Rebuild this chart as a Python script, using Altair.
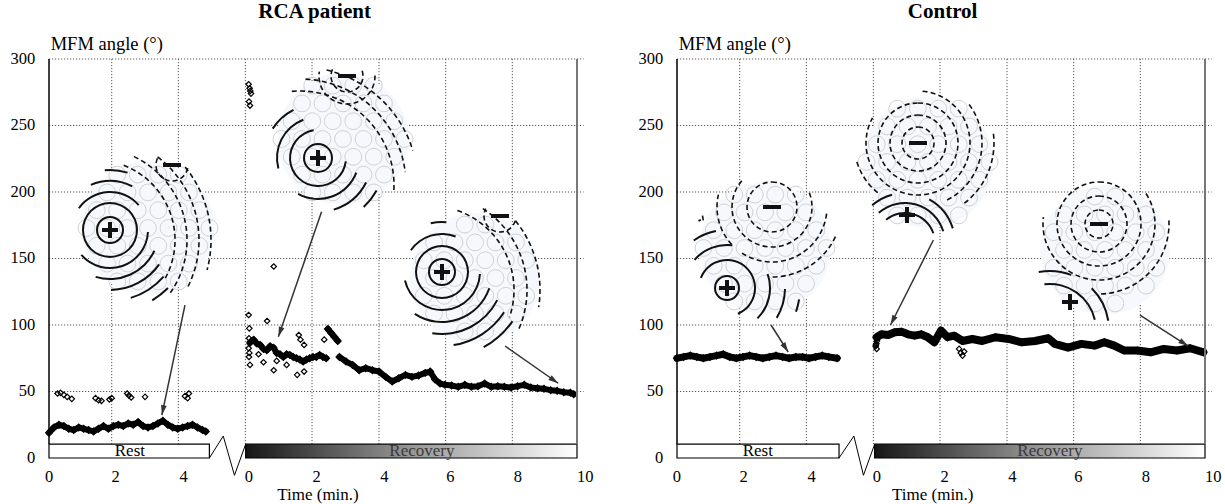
import math
import altair as alt
import pandas as pd

# ---------------- canvas / scale set-up ----------------
W, H = 1225, 504
X0, X1 = -1.485, 35.636      # horizontal domain (panel units, 1 unit = 1 min)
Y0, Y1 = -34.59, 344.36      # vertical domain (degrees)
PXU = W / (X1 - X0)
PXY = H / (Y1 - Y0)


def dat(x, y):
    """pixel position inside the view -> data units (used only for the inset drawings)"""
    return X0 + x / PXU, Y1 - y / PXY


R_OFF = 19.03     # start of the "Control" panel
REC0 = 6.0        # where recovery time 0 sits inside a panel
BAR_TOP = 10.4
FONT = "Liberation Serif"

# ---------------- data ----------------
# RCA patient, rest (main band)
rca_rest_t = [0.0, 0.15, 0.3, 0.45, 0.6, 0.75, 0.9, 1.05, 1.2, 1.35, 1.5, 1.65, 1.8, 1.95, 2.1,
              2.25, 2.4, 2.55, 2.7, 2.85, 3.0, 3.15, 3.3, 3.45, 3.6, 3.75, 3.9, 4.05, 4.2, 4.35,
              4.5, 4.65, 4.75]
rca_rest_v = [19, 23, 25, 24, 22, 21, 23, 22, 21, 20, 22, 24, 22, 24, 25, 24, 26, 25, 27, 24,
              23, 24, 26, 28, 25, 23, 22, 23, 24, 25, 23, 21, 20]
# RCA patient, rest (outliers)
rca_rest_out_t = [0.26, 0.35, 0.45, 0.55, 0.69, 1.41, 1.5, 1.59, 1.83, 1.9, 2.37, 2.42, 2.49,
                  2.91, 4.12, 4.2, 4.24]
rca_rest_out_v = [48.5, 49, 47.5, 46, 44.5, 45, 43.5, 43, 44, 45, 48.5, 47, 45.5, 46, 46.5, 45, 48.5]

# RCA patient, recovery (three pieces of the main band)
rca_rec1_t = [0.1, 0.2, 0.3, 0.4, 0.5, 0.6, 0.7, 0.8, 0.9, 1.0, 1.1, 1.2, 1.3, 1.4, 1.5, 1.6,
              1.7, 1.8, 1.9, 2.0, 2.1, 2.2, 2.3, 2.4]
rca_rec1_v = [87, 89, 86, 85, 82, 81, 84, 83, 79, 78, 76, 78, 77.5, 76, 75, 74, 72.5, 74, 75,
              76, 76, 77.5, 76, 75]
rca_rec2_t = [2.45, 2.55, 2.65, 2.75]
rca_rec2_v = [97, 94, 91, 88]
rca_rec3_t = [2.8, 3.0, 3.2, 3.4, 3.6, 3.8, 4.0, 4.2, 4.4, 4.6, 4.8, 5.0, 5.2, 5.4, 5.55, 5.7,
              5.85, 6.0, 6.2, 6.4, 6.6, 6.8, 7.0, 7.2, 7.4, 7.6, 7.8, 8.0, 8.2, 8.4, 8.6, 8.8,
              9.0, 9.2, 9.4, 9.6, 9.8, 9.9]
rca_rec3_v = [76, 72.5, 70, 66, 67.5, 66, 65, 61, 57.5, 60, 62.5, 61, 62, 64, 65, 59, 56, 55,
              54.5, 53.5, 55, 53.5, 54, 56, 53.5, 54, 53.5, 53, 54, 55, 53, 52.5, 52, 51, 50.5,
              49.5, 49, 48]
# RCA patient, recovery (outliers)
rca_rec_out_t = [0.05, 0.07, 0.06, 0.08, 0.05, 0.07, 0.06, 0.09, 0.61, 0.81, 0.81, 1.52, 1.57,
                 1.62, 1.73, 1.73, 2.34, 0.35, 0.5, 1.2, 0.9, 0.05, 0.08, 0.1, 0.12, 0.06, 0.09]
rca_rec_out_v = [107.5, 97.5, 90, 86, 82.5, 79, 76, 70, 103, 144, 66, 62.5, 92.5, 89, 85, 65,
                 89, 78, 72, 70, 73, 281, 278, 276, 274, 268, 265]

# Control, rest
ctl_rest_t = [0.0, 0.2, 0.4, 0.6, 0.8, 1.0, 1.2, 1.4, 1.6, 1.8, 2.0, 2.2, 2.4, 2.6, 2.8, 3.0,
              3.2, 3.4, 3.6, 3.8, 4.0, 4.2, 4.4, 4.6, 4.85]
ctl_rest_v = [75, 76, 77, 76, 75, 76, 77, 78, 76, 75, 76, 77, 76, 75, 76, 77, 76, 75, 76, 76,
              75, 76, 77, 76, 75]
# Control, recovery
ctl_rec_t = [0.05, 0.2, 0.4, 0.6, 0.8, 1.0, 1.2, 1.4, 1.6, 1.8, 2.0, 2.2, 2.4, 2.65, 2.95,
             3.25, 3.65, 4.05, 4.45, 4.85, 5.25, 5.45, 5.85, 6.25, 6.65, 6.95, 7.25, 7.55,
             7.95, 8.35, 8.75, 9.15, 9.55, 9.95]
ctl_rec_v = [90.8, 93, 92.5, 94.5, 95, 93, 92, 93, 90.8, 87, 95.8, 90.8, 92, 88, 89.5, 88,
             90.8, 89.5, 87, 88, 90, 85.8, 83, 85.8, 84.5, 87, 84.5, 80.8, 80.8, 79.5, 82,
             80.8, 82.5, 79.5]
ctl_rec_out_t = [0.02, 0.04, 0.06, 0.03, 0.05, 2.55, 2.6, 2.65, 2.7]
ctl_rec_out_v = [84, 86, 88, 85, 82, 82, 79, 77, 80]

# axis text
y_ticks = [0, 50, 100, 150, 200, 250, 300]
x_tick_pos = [0, 2.02, 4.08, 6.06, 8.11, 10.16, 12.16, 14.21, 16.25]
x_tick_txt = ["0", "2", "4", "0", "2", "4", "6", "8", "10"]
grid_x = [1.9, 3.92, 5.95, 7.97, 10.0, 12.02, 14.04]
panel_titles = ["RCA patient", "Control"]
panel_offsets = [0.0, R_OFF]

# arrows (data units): from inset to trace
arrow_u1 = [4.12, 8.26, 13.82, 21.88, 26.80, 33.06]
arrow_v1 = [115.0, 185.2, 84.2, 100.0, 163.9, 107.5]
arrow_u2 = [3.42, 6.95, 15.43, 22.40, 25.50, 34.52]
arrow_v2 = [32.3, 91.2, 56.2, 79.7, 100.0, 84.2]

# magnetic field map insets (pixel geometry of the small pictures)
# plus/minus: sign positions; pc/pr: solid contour family; mfam: dashed contour families
insets = [
    dict(disc=(148, 228), R=75, plus=(110, 230), minus=(172, 165), zl=((127, 172), (172, 300)),
         pc=(110, 230), pr=[13, 27, 38, 49, 60, 71, 82],
         mfam=[((95, 240), [80, 92, 104, 116]), ((172, 165), [16])]),
    dict(disc=(343, 139), R=74, plus=(318, 158), minus=(347, 76), zl=((283, 100), (385, 200)),
         pc=(318, 158), pr=[14, 28, 41, 54, 67, 80, 93],
         mfam=[((300, 185), [94, 106, 118]), ((347, 76), [16, 28])]),
    dict(disc=(475, 278), R=73, plus=(442, 272), minus=(500, 216), zl=((440, 212), (510, 320)),
         pc=(442, 272), pr=[13, 26, 38, 50, 62, 74, 86],
         mfam=[((430, 290), [84, 97, 110]), ((500, 216), [16])]),
    dict(disc=(765, 248), R=74, plus=(727, 288), minus=(772, 207), zl=((700, 218), (807, 307)),
         pc=(727, 288), pr=[12, 28, 43, 58, 73],
         mfam=[((772, 207), [25, 40, 55, 70])]),
    dict(disc=(928, 162), R=74, plus=(907, 215), minus=(918, 143), zl=((855, 190), (975, 205)),
         pc=(905, 243), pr=[30, 40, 50],
         mfam=[((918, 143), [16, 28, 40, 52, 64, 76])]),
    dict(disc=(1105, 250), R=73, plus=(1070, 302), minus=(1099, 224), zl=((1033, 250), (1130, 313)),
         pc=(1050, 330), pr=[46, 59],
         mfam=[((1099, 224), [14, 28, 42, 56, 70])]),
]

# ---------------- build tables ----------------
band_rows, out_rows = [], []


def add_band(seg, off, ts, vs, w):
    for t, v in zip(ts, vs):
        band_rows.append(dict(seg=seg, u=off + t, v=v, w=w))


def add_out(off, ts, vs):
    for t, v in zip(ts, vs):
        out_rows.append(dict(u=off + t, v=v))


add_band("a", 0.0, rca_rest_t, rca_rest_v, 6)
add_band("b", REC0, rca_rec1_t, rca_rec1_v, 6)
add_band("c", REC0, rca_rec2_t, rca_rec2_v, 6)
add_band("d", REC0, rca_rec3_t, rca_rec3_v, 6)
add_band("e", R_OFF, ctl_rest_t, ctl_rest_v, 7)
add_band("f", R_OFF + REC0, ctl_rec_t, ctl_rec_v, 8)
add_out(0.0, rca_rest_out_t, rca_rest_out_v)
add_out(REC0, rca_rec_out_t, rca_rec_out_v)
add_out(R_OFF + REC0, ctl_rec_out_t, ctl_rec_out_v)
band_df = pd.DataFrame(band_rows)
out_df = pd.DataFrame(out_rows)

hgrid = pd.DataFrame([dict(u=o, u2=o + 16.2, v=v) for o in panel_offsets for v in y_ticks[1:]])
vgrid = pd.DataFrame([dict(u=o + g, v=BAR_TOP, v2=300) for o in panel_offsets for g in grid_x])
lframe = pd.DataFrame([dict(u=o, v=BAR_TOP, v2=300) for o in panel_offsets])
rframe = pd.DataFrame([dict(u=o + 16.0, v=BAR_TOP, v2=300) for o in panel_offsets])

rest_ends = [4.86, 4.91]
rec_starts = [5.96, 5.99]
rest_df = pd.DataFrame([dict(u=o, u2=o + e, v=0, v2=BAR_TOP) for o, e in zip(panel_offsets, rest_ends)])
rec_df = pd.DataFrame([dict(u=o + s, u2=o + 16.0, v=0, v2=BAR_TOP) for o, s in zip(panel_offsets, rec_starts)])

zig_rows = []
zig_shape_u = [[4.86, 5.28, 5.62, 5.96], [4.91, 5.36, 5.65, 5.99]]
zig_shape_v = [0, 16.5, -13, BAR_TOP]
for k, o in enumerate(panel_offsets):
    for i, (zu, zv) in enumerate(zip(zig_shape_u[k], zig_shape_v)):
        zig_rows.append(dict(g=k, o=i, u=o + zu, v=zv))
zig_df = pd.DataFrame(zig_rows)

# arrows
arr_rows, head_rows = [], []
for u1, v1, u2, v2 in zip(arrow_u1, arrow_v1, arrow_u2, arrow_v2):
    arr_rows.append(dict(u=u1, v=v1, u2=u2, v2=v2))
    dx = (u2 - u1) * PXU
    dy = -(v2 - v1) * PXY
    ang = math.degrees(math.atan2(dx, -dy)) % 360
    head_rows.append(dict(u=u2, v=v2, a=ang))
arr_df = pd.DataFrame(arr_rows)
head_df = pd.DataFrame(head_rows)

# insets: discs, sensor rings, contour arcs, pole signs
disc_rows, sens_rows, arc_rows, sign_rows = [], [], [], []


def runs_on_ring(c, r, disc, R, a, b, sgn):
    ok = []
    for k in range(180):
        th = math.radians(2 * k)
        x = c[0] + r * math.sin(th)
        y = c[1] - r * math.cos(th)
        inside = (x - disc[0]) ** 2 + (y - disc[1]) ** 2 <= (R - 3) ** 2
        cr = (b[0] - a[0]) * (y - a[1]) - (b[1] - a[1]) * (x - a[0])
        ok.append(inside and cr * sgn > 0)
    if all(ok):
        return [(0.0, 2 * math.pi)]
    if not any(ok):
        return []
    n = len(ok)
    start = ok.index(False)
    runs, cur = [], None
    for i in range(1, n + 1):
        j = (start + i) % n
        if ok[j]:
            if cur is None:
                cur = [start + i, start + i]
            else:
                cur[1] = start + i
        else:
            if cur is not None:
                runs.append(cur)
                cur = None
    if cur is not None:
        runs.append(cur)
    return [(math.radians(2 * s - 1), math.radians(2 * e + 1)) for s, e in runs]


def side(a, b, p):
    return (b[0] - a[0]) * (p[1] - a[1]) - (b[1] - a[1]) * (p[0] - a[0])


for ins in insets:
    dx, dy = ins["disc"]
    R = ins["R"]
    u, v = dat(dx, dy)
    disc_rows.append(dict(u=u, v=v, s=math.pi * R * R))
    # sensor circles on a hexagonal grid
    for row in range(-4, 5):
        for col in range(-4, 5):
            sx = col * 20.5 + (10.25 if row % 2 else 0)
            sy = row * 17.8
            if sx * sx + sy * sy <= (R - 12) ** 2:
                su, sv = dat(dx + sx, dy + sy)
                sens_rows.append(dict(u=su, v=sv))
    a, b = ins["zl"]
    sp = 1 if side(a, b, ins["plus"]) > 0 else -1
    # solid contours (positive field)
    pu, pv = dat(*ins["pc"])
    for r in ins["pr"]:
        for t1, t2 in runs_on_ring(ins["pc"], r, ins["disc"], R, a, b, sp):
            arc_rows.append(dict(u=pu, v=pv, t1=t1, t2=t2, r1=r + 1.0, r2=r - 1.0))
    # dashed contours (negative field)
    for mc, mr in ins["mfam"]:
        mu, mv = dat(*mc)
        for r in mr:
            for t1, t2 in runs_on_ring(mc, r, ins["disc"], R, a, b, -sp):
                d, g = 5.0 / r, 3.2 / r
                t = t1
                while t < t2:
                    arc_rows.append(dict(u=mu, v=mv, t1=t, t2=min(t + d, t2), r1=r + 0.8, r2=r - 0.8))
                    t += d + g
    # + and - signs
    px_, py_ = ins["plus"]
    for (x1, y1, x2, y2) in [(px_ - 8, py_, px_ + 8, py_), (px_, py_ - 8, px_, py_ + 8)]:
        a1, b1 = dat(x1, y1)
        a2, b2 = dat(x2, y2)
        sign_rows.append(dict(u=a1, v=b1, u2=a2, v2=b2))
    mx_, my_ = ins["minus"]
    a1, b1 = dat(mx_ - 9, my_)
    a2, b2 = dat(mx_ + 9, my_)
    sign_rows.append(dict(u=a1, v=b1, u2=a2, v2=b2))

disc_df = pd.DataFrame(disc_rows)
sens_df = pd.DataFrame(sens_rows)
arc_df = pd.DataFrame(arc_rows)
sign_df = pd.DataFrame(sign_rows)

# texts
title_df = pd.DataFrame([dict(u=o + 8.05, v=335.5, t=t) for o, t in zip(panel_offsets, panel_titles)])
ytitle_df = pd.DataFrame([dict(u=o + 0.05, v=311.5, t="MFM angle (°)") for o in panel_offsets])
ylab_df = pd.DataFrame([dict(u=o - 0.42, v=y, t=str(y)) for o in panel_offsets for y in y_ticks])
xlab_df = pd.DataFrame([dict(u=o + p, v=-14.5, t=t) for o in panel_offsets
                        for p, t in zip(x_tick_pos, x_tick_txt)])
xtitle_df = pd.DataFrame([dict(u=0 + 8.15, v=-27.5, t="Time (min.)"),
                          dict(u=R_OFF + 7.75, v=-27.5, t="Time (min.)")])
rest_txt = pd.DataFrame([dict(u=o + 2.45, v=5.0, t="Rest") for o in panel_offsets])
rec_txt = pd.DataFrame([dict(u=o + 11.3, v=5.0, t="Recovery") for o in panel_offsets])

# ---------------- chart ----------------
xs = alt.Scale(domain=[X0, X1], nice=False, zero=False)
ys = alt.Scale(domain=[Y0, Y1], nice=False, zero=False)
X = alt.X("u:Q", scale=xs, axis=None)
Y = alt.Y("v:Q", scale=ys, axis=None)

layers = []
layers.append(alt.Chart(hgrid).mark_rule(color="#555", strokeWidth=1, strokeDash=[1.2, 1.8]).encode(
    x=X, x2="u2:Q", y=Y))
layers.append(alt.Chart(vgrid).mark_rule(color="#555", strokeWidth=1, strokeDash=[1.2, 1.8]).encode(
    x=X, y=Y, y2="v2:Q"))
layers.append(alt.Chart(disc_df).mark_point(shape="circle", filled=True, color="#f5f8fc", opacity=1).encode(
    x=X, y=Y, size=alt.Size("s:Q", scale=None)))
layers.append(alt.Chart(sens_df).mark_point(shape="circle", filled=False, color="#d2d2d2",
                                            strokeWidth=1, size=283, opacity=1).encode(x=X, y=Y))
layers.append(alt.Chart(arc_df).mark_arc(color="#111").encode(
    x=X, y=Y,
    theta=alt.Theta("t1:Q", scale=None), theta2=alt.Theta2("t2:Q"),
    radius=alt.Radius("r1:Q", scale=None), radius2=alt.Radius2("r2:Q")))
layers.append(alt.Chart(sign_df).mark_rule(color="#111", strokeWidth=4).encode(
    x=X, y=Y, x2="u2:Q", y2="v2:Q"))
layers.append(alt.Chart(band_df).mark_line(color="black", strokeJoin="round", strokeCap="round").encode(
    x=X, y=Y, detail="seg:N", order="u:Q", strokeWidth=alt.StrokeWidth("w:Q", scale=None)))
layers.append(alt.Chart(band_df).mark_point(shape="diamond", filled=False, color="black",
                                            strokeWidth=1.4, size=42, opacity=1).encode(x=X, y=Y))
layers.append(alt.Chart(out_df).mark_point(shape="diamond", filled=False, color="black",
                                           strokeWidth=1.2, size=30, opacity=1).encode(x=X, y=Y))
layers.append(alt.Chart(rest_df).mark_rect(fill="white", stroke="black", strokeWidth=1.2).encode(
    x=X, x2="u2:Q", y=Y, y2="v2:Q"))
grad = {"gradient": "linear", "x1": 0, "x2": 1, "y1": 0, "y2": 0,
        "stops": [{"offset": 0, "color": "#161616"}, {"offset": 0.45, "color": "#8c8c8c"},
                  {"offset": 1, "color": "#ffffff"}]}
layers.append(alt.Chart(rec_df).mark_rect(fill=grad, stroke="black", strokeWidth=1.2).encode(
    x=X, x2="u2:Q", y=Y, y2="v2:Q"))
layers.append(alt.Chart(zig_df).mark_line(color="black", strokeWidth=1).encode(
    x=X, y=Y, detail="g:N", order="o:Q"))
layers.append(alt.Chart(lframe).mark_rule(color="black", strokeWidth=1.5).encode(x=X, y=Y, y2="v2:Q"))
layers.append(alt.Chart(rframe).mark_rule(color="#777", strokeWidth=2).encode(x=X, y=Y, y2="v2:Q"))
layers.append(alt.Chart(arr_df).mark_rule(color="#333", strokeWidth=1.5).encode(
    x=X, y=Y, x2="u2:Q", y2="v2:Q"))
layers.append(alt.Chart(head_df).mark_point(shape="M0,0L-0.55,1.9L0.55,1.9Z", filled=True,
                                            color="#333", size=110, opacity=1).encode(
    x=X, y=Y, angle=alt.Angle("a:Q", scale=None)))
layers.append(alt.Chart(title_df).mark_text(font=FONT, fontSize=21, fontWeight="bold", color="black",
                                            baseline="middle").encode(x=X, y=Y, text="t:N"))
layers.append(alt.Chart(ytitle_df).mark_text(font=FONT, fontSize=18.5, color="black", align="left",
                                             baseline="middle").encode(x=X, y=Y, text="t:N"))
layers.append(alt.Chart(ylab_df).mark_text(font=FONT, fontSize=16.5, color="black", align="right",
                                           baseline="middle").encode(x=X, y=Y, text="t:N"))
layers.append(alt.Chart(xlab_df).mark_text(font=FONT, fontSize=16.5, color="black",
                                           baseline="middle").encode(x=X, y=Y, text="t:N"))
layers.append(alt.Chart(xtitle_df).mark_text(font=FONT, fontSize=17, color="black",
                                             baseline="middle").encode(x=X, y=Y, text="t:N"))
layers.append(alt.Chart(rest_txt).mark_text(font=FONT, fontSize=17, color="black",
                                            baseline="middle").encode(x=X, y=Y, text="t:N"))
layers.append(alt.Chart(rec_txt).mark_text(font=FONT, fontSize=17, color="#3a3a3a",
                                           baseline="middle").encode(x=X, y=Y, text="t:N"))

chart = alt.layer(*layers).properties(
    width=W, height=H, padding=0,
    autosize=alt.AutoSizeParams(type="none"),
    background="white",
).configure_view(stroke=None)

chart.save("out.html", embed_options={"renderer": "svg", "actions": False})
